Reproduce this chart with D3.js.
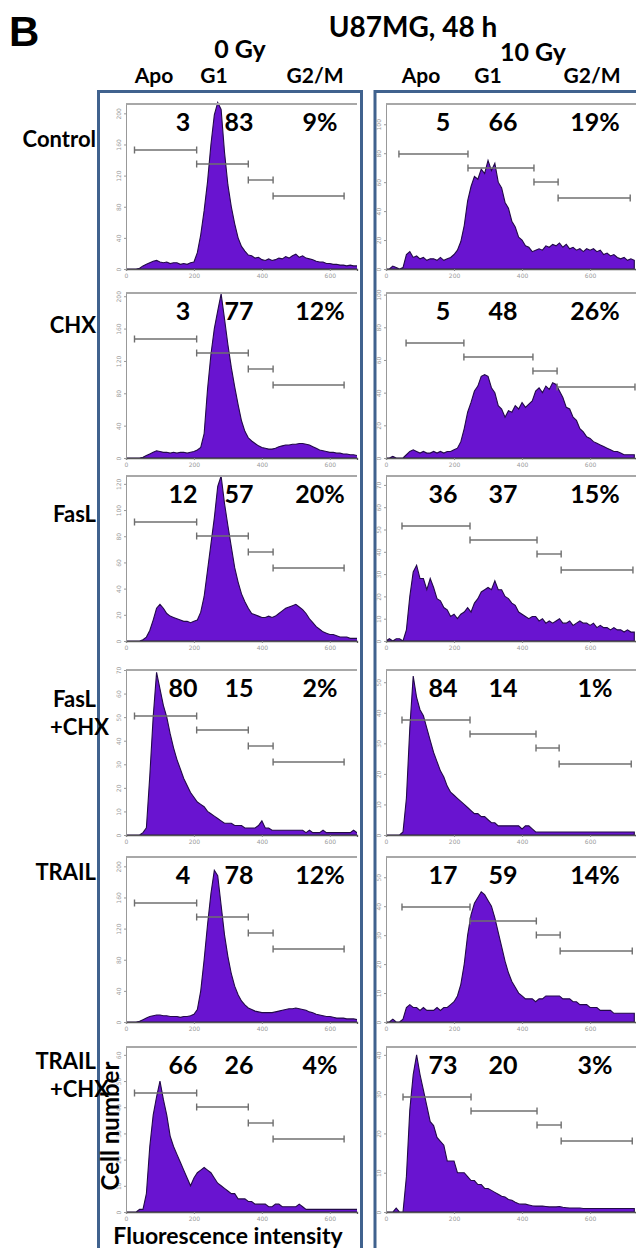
<!DOCTYPE html>
<html>
<head>
<meta charset="utf-8">
<script src="https://cdn.jsdelivr.net/npm/d3@7"></script>
<style>
  body { margin: 0; background: #fff; }
  svg { display: block; }
  .lbl { font-family: Lato, "Open Sans", sans-serif; font-weight: bold; fill: #000; }
  .tick text { font-family: "DejaVu Sans", sans-serif; font-weight: normal; fill: #9a9a9a; }
</style>
</head>
<body>
<svg id="fig"></svg>
<script>
const width = 636;
const height = 1248;

// ---- data ----
const treatments = [["Control"], ["CHX"], ["FasL"], ["FasL", "+CHX"], ["TRAIL"], ["TRAIL", "+CHX"]];
const doses = ["0 Gy", "10 Gy"];
const phases = ["Apo", "G1", "G2/M"];

// percentages written on each histogram (Apo, G1, G2/M)
const pct0 = [[3, 83, 9], [3, 77, 12], [12, 57, 20], [80, 15, 2], [4, 78, 12], [66, 26, 4]];
const pct10 = [[5, 66, 19], [5, 48, 26], [36, 37, 15], [84, 14, 1], [17, 59, 14], [73, 20, 3]];

// gate boundaries (channel) : Apo | G1 | S | G2/M
const gates0 = [25, 208, 360, 433, 642];
const gates10 = [
  [38, 241, 435, 506, 718],
  [59, 229, 432, 503, 732],
  [47, 247, 444, 515, 726],
  [47, 247, 441, 509, 721],
  [47, 247, 442, 512, 724],
  [50, 250, 444, 515, 724]
];

// y axis extent and tick step per panel
const yMax0 = [212, 204, 126, 70, 212, 63];
const yMax10 = [114, 101, 74, 54, 57, 42];
const yStep0 = [40, 40, 20, 10, 40, 10];
const yStep10 = [20, 20, 10, 10, 10, 10];
const xTicks = [0, 200, 400, 600];

// histogram channels, 0 .. 730 every 10
const channels = d3.range(0, 740, 10);

// cell counts
const ctrl0 = [0,0,0,0,1,4,6,8,10,11, 9,8,9,7,8,8,6,7,6,8, 9,21,44,75,112,160,198,214,205,150,
  108,80,58,40,29,23,18,17,14,15, 12,11,13,11,12,14,13,16,14,17, 19,15,17,14,13,12,10,9,9,7,
  7,6,6,5,5,4,5,4,4,3, 3,4,3,3];
const ctrl10 = [0,0,2,1,0,1,10,12,8,9, 7,8,6,7,7,6,8,6,7,8, 10,13,19,30,47,57,64,62,69,66,
  75,68,73,60,56,46,42,33,29,22, 20,16,15,12,13,14,13,16,15,17, 16,18,15,17,14,15,13,14,12,14,
  13,14,12,13,10,11,9,10,8,7, 8,6,7,6];
const chx0 = [0,0,0,0,0,1,3,5,7,9, 8,7,7,6,7,6,7,7,6,7, 8,10,13,30,85,128,160,182,203,172,
  140,112,88,66,46,33,25,21,18,15, 13,12,11,11,12,14,15,16,16,17, 17,18,18,17,16,14,12,10,9,8,
  7,7,6,6,5,5,4,4,3,3, 3,3,2,2];
const chx10 = [0,0,1,0,0,0,2,4,5,4, 3,4,3,3,4,3,4,3,4,4, 5,6,10,18,28,34,41,44,50,51,
  50,43,40,32,30,25,29,28,32,30, 34,31,33,35,41,43,40,44,42,46, 45,41,37,31,30,25,23,18,16,13,
  12,10,9,8,7,6,5,4,4,3, 2,2,2,2];
const fasl0 = [0,0,0,0,0,1,3,8,16,25, 28,25,21,19,18,17,16,15,15,14, 15,16,22,34,54,74,94,118,126,105,
  88,72,56,45,36,30,25,21,20,19, 18,18,19,18,19,21,23,25,26,27, 28,26,24,21,17,14,11,9,7,6,
  5,5,4,3,3,3,2,2,2,2, 2,1,1,1];
const fasl10 = [0,1,0,1,1,0,5,20,31,34, 28,28,23,28,24,19,18,15,14,11, 12,10,12,13,15,13,17,19,22,23,
  24,23,27,23,23,20,19,17,16,13, 12,11,10,11,11,9,10,8,9,8, 9,10,8,8,9,7,8,9,8,8,
  7,8,6,7,6,6,5,6,5,5, 4,5,4,4];
const faslChx0 = [0,0,0,0,0,1,3,25,50,69, 62,55,50,43,37,32,28,24,21,18, 16,14,13,12,10,9,8,7,6,5,
  5,5,4,4,4,3,3,3,3,4, 6,3,3,2,2,2,2,2,2,2, 2,2,2,1,2,1,1,1,2,1,
  1,1,1,1,1,1,1,2,1,1, 1,1,1,1];
const faslChx10 = [0,0,0,0,0,1,12,35,52,45, 41,39,35,31,27,24,21,19,16,14, 13,12,11,10,9,8,7,7,6,6,
  5,4,4,3,3,3,3,3,3,3, 2,3,3,2,1,1,1,1,1,1, 1,1,1,1,1,1,1,1,1,1,
  1,1,1,1,1,1,1,1,1,1, 1,1,1,1];
const trail0 = [0,0,0,0,1,3,5,7,8,9, 9,8,8,7,7,7,6,7,7,8, 10,16,40,80,125,165,195,188,150,112,
  84,62,46,35,27,22,18,16,14,13, 12,12,12,12,13,14,15,16,17,17, 18,17,16,15,13,12,10,9,8,7,
  7,6,5,5,5,4,4,4,3,3, 3,3,3,3];
const trail10 = [0,0,1,0,0,1,5,6,5,5, 4,5,4,4,4,5,4,5,5,6, 7,9,13,20,30,37,41,43,45,44,
  42,40,36,31,26,21,17,14,12,10, 9,8,8,8,7,8,8,9,9,9, 9,9,8,8,8,7,7,6,6,6,
  5,5,5,4,4,4,4,3,3,3, 3,3,3,3];
const trailChx0 = [0,0,0,0,1,1,7,25,37,44, 50,43,37,29,25,22,19,16,13,10, 13,15,16,17,16,15,13,11,10,9,
  8,7,7,5,5,5,4,4,3,3, 3,3,2,2,3,3,2,2,2,2, 2,3,2,1,1,1,1,1,1,1,
  1,1,1,1,1,1,1,1,1,1, 1,1,1,1];
const trailChx10 = [0,0,0,1,0,0,9,26,35,40, 35,31,27,23,22,19,18,17,13,13, 13,10,10,10,9,8,8,7,7,6,
  6,5.5,5,4.5,4,3.8,3.2,3,2.5,2.1, 2,2,1.8,1.6,1.5,1.5,1.5,1.4,1.3,1.3, 1.3,1.4,1.2,1.1,1,1,1,1,0.9,0.9,
  0.9,0.9,0.9,0.9,0.9,0.9,0.9,0.9,0.9,0.9, 0.9,0.9,0.9,0.9];

const series0 = [ctrl0, chx0, fasl0, faslChx0, trail0, trailChx0];
const series10 = [ctrl10, chx10, fasl10, faslChx10, trail10, trailChx10];

// ---- layout ----
const svg = d3.select("#fig")
    .attr("width", width)
    .attr("height", height);

const rowTop = [104, 293, 476, 670, 857, 1047];
const plotH = 165;
const rowLabelY = [147, 333, 522, 707, 880, 1069];

const cols = [
  { x0: 126, x1: 357, dmax: 680, yMax: yMax0, yStep: yStep0, pct: pct0, series: series0,
    gates: rowTop.map(() => gates0), gateY: [46, 60, 76, 92], labelX: [183, 239, 320] },
  { x0: 386, x1: 636, dmax: 735, yMax: yMax10, yStep: yStep10, pct: pct10, series: series10,
    gates: gates10, gateY: [50, 64, 78, 94], labelX: [443, 503, 595] }
];

// blue frames
svg.append("rect").attr("x", 98.5).attr("y", 91.5).attr("width", 263).attr("height", 1200)
    .attr("fill", "none").attr("stroke", "#40628e").attr("stroke-width", 3);
svg.append("rect").attr("x", 375).attr("y", 91.5).attr("width", 300).attr("height", 1200)
    .attr("fill", "none").attr("stroke", "#40628e").attr("stroke-width", 3);

const defs = svg.append("defs");

cols.forEach((col, ci) => {
  const x = d3.scaleLinear().domain([0, col.dmax]).range([col.x0, col.x1]);

  rowTop.forEach((top, ri) => {
    const base = top + plotH;
    const y = d3.scaleLinear().domain([0, col.yMax[ri]]).range([base, top]);
    const g = svg.append("g");

    const clipId = "clip-" + ci + "-" + ri;
    defs.append("clipPath").attr("id", clipId).append("rect")
        .attr("x", col.x0).attr("y", top - 6)
        .attr("width", col.x1 - col.x0).attr("height", plotH + 6);

    // histogram
    const pts = channels.map((c, i) => [c, col.series[ri][i]]);
    const area = d3.area()
        .x(d => x(d[0]))
        .y0(base)
        .y1(d => y(d[1]));
    g.append("path")
        .datum(pts)
        .attr("clip-path", "url(#" + clipId + ")")
        .attr("d", area)
        .attr("fill", "#6914d0")
        .attr("stroke", "#220a48")
        .attr("stroke-width", 1.1)
        .attr("stroke-linejoin", "miter");

    // top frame line
    g.append("line")
        .attr("x1", col.x0).attr("x2", col.x1)
        .attr("y1", top).attr("y2", top)
        .attr("stroke", "#a8a8a8").attr("stroke-width", 2);

    // axes
    const xAxis = g.append("g")
        .attr("transform", "translate(0," + base + ")")
        .call(d3.axisBottom(x).tickValues(xTicks).tickSize(2).tickPadding(3));
    xAxis.select(".domain").attr("stroke", "#555").attr("stroke-width", 1.3);
    xAxis.selectAll(".tick line").attr("stroke", "#888");
    xAxis.selectAll(".tick text").attr("font-size", 6);

    const yAxis = g.append("g")
        .attr("transform", "translate(" + col.x0 + ",0)")
        .call(d3.axisLeft(y)
          .tickValues(d3.range(0, col.yMax[ri] + 0.1, col.yStep[ri]))
          .tickSize(2).tickSizeOuter(0));
    yAxis.select(".domain").attr("stroke", "#999").attr("stroke-width", 1);
    yAxis.selectAll(".tick line").attr("stroke", "#999");
    yAxis.selectAll(".tick text")
        .attr("font-size", 6)
        .attr("transform", "rotate(-90)")
        .attr("x", 0).attr("y", -5).attr("dy", 0)
        .attr("text-anchor", "middle");

    // gate bars
    const gt = col.gates[ri];
    d3.range(4).forEach(k => {
      const gy = top + col.gateY[k];
      const xa = x(gt[k]), xb = x(gt[k + 1]);
      g.append("line").attr("x1", xa).attr("x2", xb).attr("y1", gy).attr("y2", gy)
          .attr("stroke", "#6f6f6f").attr("stroke-width", 1.4);
      [xa, xb].forEach(xe => {
        g.append("line").attr("x1", xe).attr("x2", xe).attr("y1", gy - 3.5).attr("y2", gy + 3.5)
            .attr("stroke", "#6f6f6f").attr("stroke-width", 1.4);
      });
    });

    // percentages
    col.pct[ri].forEach((v, k) => {
      g.append("text").attr("class", "lbl")
          .attr("x", col.labelX[k]).attr("y", top + 27)
          .attr("text-anchor", "middle")
          .attr("font-size", 25)
          .text(k === 2 ? v + "%" : v);
    });
  });
});

// row labels
treatments.forEach((lines, ri) => {
  svg.append("text").attr("class", "lbl")
      .attr("x", 96).attr("y", rowLabelY[ri])
      .attr("text-anchor", "end").attr("font-size", 22)
      .text(lines[0]);
  if (lines[1]) {
    svg.append("text").attr("class", "lbl")
        .attr("x", 50).attr("y", rowLabelY[ri] + 28)
        .attr("font-size", 22)
        .text(lines[1]);
  }
});

// headers
svg.append("text")
    .attr("x", 9).attr("y", 46)
    .attr("font-family", "Liberation Sans, Arial, sans-serif")
    .attr("font-weight", "bold").attr("font-size", 42)
    .text("B");
svg.append("text").attr("class", "lbl")
    .attr("x", 413).attr("y", 37).attr("text-anchor", "middle").attr("font-size", 28)
    .text("U87MG, 48 h");
svg.append("text").attr("class", "lbl")
    .attr("x", 240).attr("y", 58).attr("text-anchor", "middle").attr("font-size", 25)
    .text(doses[0]);
svg.append("text").attr("class", "lbl")
    .attr("x", 533).attr("y", 61).attr("text-anchor", "middle").attr("font-size", 25)
    .text(doses[1]);

const phaseX = [[154, 214, 315], [421, 488, 592]];
phaseX.forEach(xs => {
  phases.forEach((p, k) => {
    svg.append("text").attr("class", "lbl")
        .attr("x", xs[k]).attr("y", 83).attr("text-anchor", "middle").attr("font-size", 21)
        .text(p);
  });
});

// axis titles
svg.append("text").attr("class", "lbl")
    .attr("transform", "translate(119,1126) rotate(-90)")
    .attr("text-anchor", "middle").attr("font-size", 24)
    .text("Cell number");
svg.append("text").attr("class", "lbl")
    .attr("x", 228).attr("y", 1244).attr("text-anchor", "middle").attr("font-size", 23)
    .text("Fluorescence intensity");
</script>
</body>
</html>
